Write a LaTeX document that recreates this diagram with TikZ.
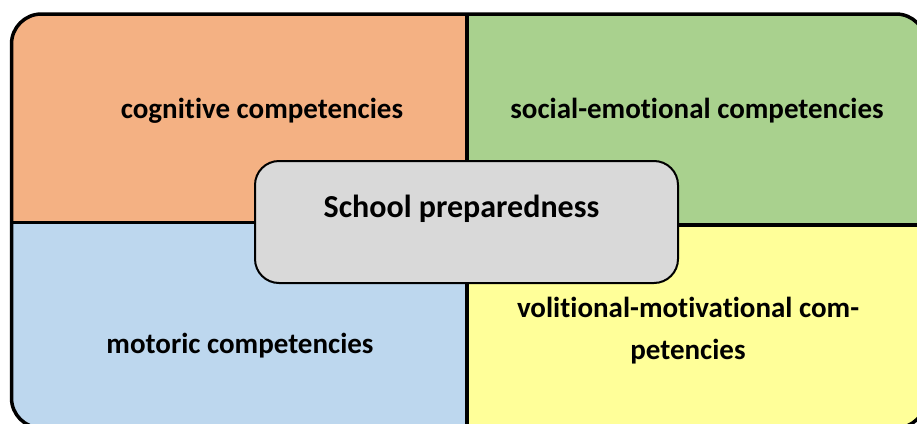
\documentclass[tikz,border=0pt]{standalone}
\usepackage{fontspec}
\setmainfont{Carlito}[Ligatures=NoCommon]
\definecolor{cognfill}{HTML}{F4B183}
\definecolor{socfill}{HTML}{A9D18E}
\definecolor{motfill}{HTML}{BDD7EE}
\definecolor{volfill}{HTML}{FFFF99}
\definecolor{schoolfill}{HTML}{D9D9D9}

\begin{document}
\begin{tikzpicture}[x=1pt,y=-1pt,
  comp/.style={font=\bfseries\fontsize{29}{42}\selectfont, anchor=base, align=center, inner sep=0pt},
  centrebox/.style={draw, line width=2pt, fill=schoolfill, rounded corners=24pt,
    font=\bfseries\fontsize{32}{38}\selectfont, anchor=north, inner sep=0pt,
    minimum width=423pt, text height=56pt, text depth=66pt}]
  \useasboundingbox (0,0) rectangle (917,423);
  %
  \begin{scope}
    \clip[rounded corners=30pt] (11.5,14) rectangle (926,428);
    \fill[cognfill] (11.5,14) rectangle (467,222.5);
    \fill[socfill] (467,14) rectangle (926,224.5);
    \fill[motfill] (11.5,222.5) rectangle (467,428);
    \fill[volfill] (467,224.5) rectangle (926,428);
  \end{scope}
  \draw[line width=3.5pt] (467,14) -- (467,428);
  \draw[line width=3pt] (11.5,222.5) -- (467,222.5);
  \draw[line width=4pt] (467,224.5) -- (926,224.5);
  \draw[line width=3.5pt, rounded corners=30pt] (11.5,14) rectangle (926,428);
  %
  \node[comp] (cogn) at (262,118) {cognitive competencies};
  \node[comp] (soc) at (697,118) {social-emotional competencies};
  \node[comp] (mot) at (240,353) {motoric competencies};
  \node[comp] (vol) at (688,359) {volitional-motivational com-\\petencies};
  \node[centrebox] (school) at (466.5,160) {School preparedness\hspace*{10pt}};
\end{tikzpicture}
\end{document}
